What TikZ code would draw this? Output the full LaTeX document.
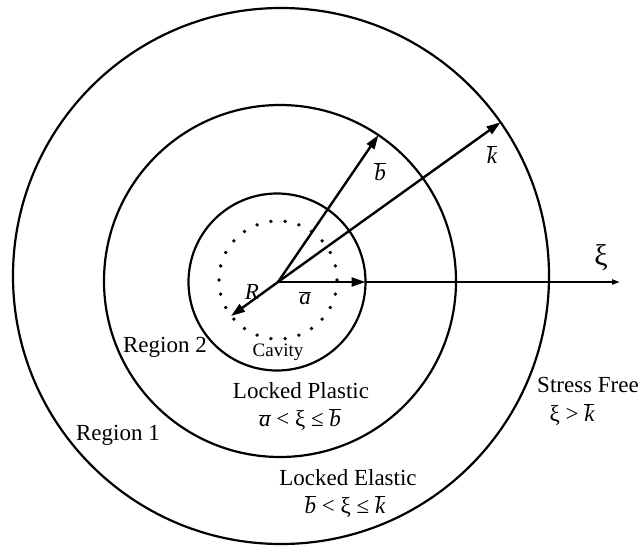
\documentclass[tikz,border=0pt]{standalone}
\usepackage{fontspec}
\setmainfont{Liberation Serif}
\usetikzlibrary{arrows.meta}
\newcommand{\ovl}[1]{\ensuremath{\overline{\mbox{\itshape #1}}}}
\begin{document}
\begin{tikzpicture}[x=1pt,y=-1pt,
  ring/.style={circle, draw, line width=2.2pt, inner sep=0pt, outer sep=0pt},
  arr/.style={line width=2.4pt, -{Triangle[length=14pt,width=9pt]}},
  axisarr/.style={line width=2pt, -{Triangle[length=8pt,width=5pt]}},
  lbl/.style={font=\fontsize{23}{27}\selectfont, inner sep=0pt},
  smalllbl/.style={font=\fontsize{19}{22}\selectfont, inner sep=0pt}]
\useasboundingbox (0,0) rectangle (642,548);
% rings
\node[ring, minimum size=536pt] (outer) at (281,276) {};
\node[ring, minimum size=352pt] (middle) at (280,281) {};
\node[ring, minimum size=177pt] (inner) at (277,282) {};
% dotted cavity outline
\foreach \a in {0,...,25} \fill (278,280) ++(\a*13.846:59) circle[radius=1.9];
% coordinates
\coordinate (O) at (278,282);
\coordinate (xiend) at (620,282);
\coordinate (rtip) at (231,316);
% arrows
\draw[axisarr] (inner.east) -- (xiend);
\draw[arr] (O) -- (inner.east);
\draw[arr] (O) -- (middle.56);
\draw[arr] (O) -- (outer.35);
\draw[arr] (O) -- (rtip);
% labels
\node[lbl, font=\fontsize{30}{34}\selectfont] (xi) at (601,258) {ξ};
\node[lbl] (lb) at (380,172) {\ovl{b}};
\node[lbl] (lk) at (492,155) {\ovl{k}};
\node[lbl] (la) at (305,298) {\ovl{a}};
\node[lbl] (lR) at (252,292) {\itshape R};
\node[smalllbl] (cav) at (278,352) {Cavity};
\node[lbl] (reg2) at (165,347) {Region 2};
\node[lbl] (reg1) at (118,435) {Region 1};
\node[lbl] (lp) at (301,391) {Locked Plastic};
\node[lbl] (lpc) at (300,420) {\ovl{a} < ξ ≤ \ovl{b}};
\node[lbl] (le) at (348,478) {Locked Elastic};
\node[lbl] (lec) at (345,507) {\ovl{b} < ξ ≤ \ovl{k}};
\node[lbl] (sf) at (588,385) {Stress Free};
\node[lbl] (sfc) at (572,415) {ξ > \ovl{k}};
\end{tikzpicture}
\end{document}
